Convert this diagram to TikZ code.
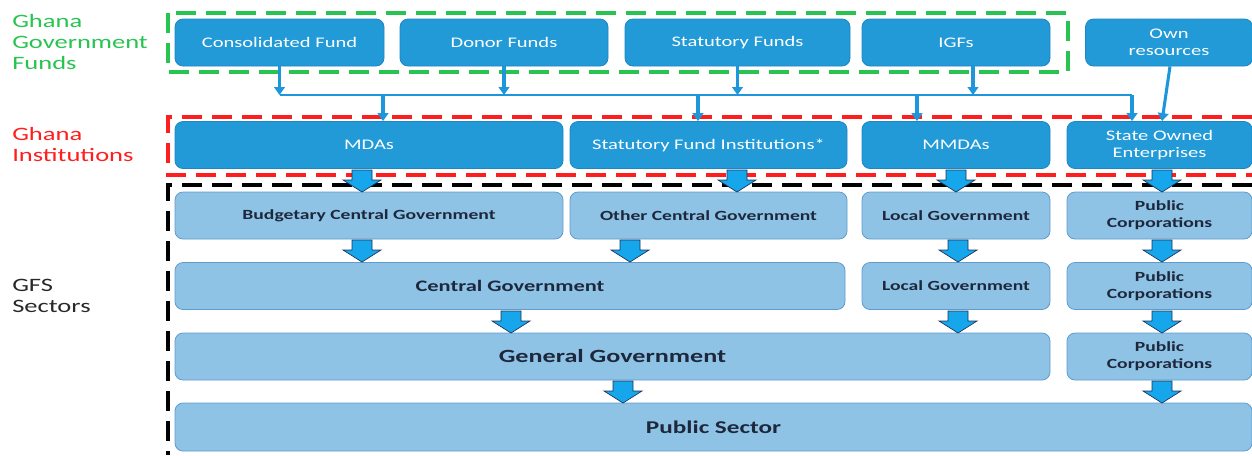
\documentclass[tikz,border=0pt]{standalone}
\usepackage{fontspec}
\setmainfont{Carlito}[FakeStretch=1.4]
\usetikzlibrary{arrows.meta,calc}
\definecolor{darkbox}{RGB}{33,154,215}
\definecolor{darkedge}{RGB}{30,135,195}
\definecolor{lightbox}{RGB}{142,195,230}
\definecolor{lightedge}{RGB}{95,155,205}
\definecolor{arrowblue}{RGB}{22,166,235}
\definecolor{arrowedge}{RGB}{30,50,90}
\definecolor{lineblue}{RGB}{30,150,220}
\definecolor{ggreen}{RGB}{40,195,80}
\definecolor{gred}{RGB}{255,30,30}
\definecolor{navytext}{RGB}{30,40,60}
\definecolor{labelgray}{RGB}{40,40,40}
\begin{document}
\begin{tikzpicture}[x=0.75pt,y=-0.75pt,
  bw/.style={minimum width=#1*0.75pt},
  bh/.style={minimum height=#1*0.75pt},
  dbox/.style={rounded corners=6pt, fill=darkbox, draw=darkedge, line width=0.6pt,
    text=white, font=\fontsize{11}{12.5}\selectfont, align=center, inner sep=0pt, bh=47},
  lbox/.style={rounded corners=6pt, fill=lightbox, draw=lightedge, line width=0.6pt,
    text=navytext, font=\bfseries\fontsize{10.5}{12.5}\selectfont, align=center, inner sep=0pt, bh=47},
  sidelabel/.style={anchor=west, align=left, inner sep=0pt, font=\fontsize{14.2}{15.75}\selectfont},
  framedash/.style={line width=2.4pt, dash pattern=on 15pt off 7.5pt},
  thinarrow/.style={draw=lineblue, line width=2.3pt, -{Triangle[width=8pt,length=6pt]}},
  busline/.style={draw=lineblue, line width=1.8pt},
  blockarrow/.pic={\path[fill=arrowblue, draw=arrowedge, line width=0.5pt]
    (-10,0) -- (10,0) -- (10,10) -- (19,10) -- (0,22) -- (-19,10) -- (-10,10) -- cycle;}
]
\useasboundingbox (0,0) rectangle (1252,455);

% side labels
\node[sidelabel, text=ggreen] (lfunds) at (12,42) {Ghana\\Government\\Funds};
\node[sidelabel, text=gred] (linst) at (12,144) {Ghana\\Institutions};
\node[sidelabel, text=labelgray] (lgfs) at (12,296) {GFS\\Sectors};

% dashed frames
\draw[framedash, draw=ggreen] (168,13) rectangle (1068,72);
\draw[framedash, draw=gred] (1252,117) -- (168,117) -- (168,175) -- (1252,175);
\draw[framedash, draw=black] (1252,185) -- (168,185) -- (168,455);

% funds
\node[dbox, bw=209] (cf)  at (279.5,42.5) {Consolidated Fund};
\node[dbox, bw=208] (df)  at (504,42.5)   {Donor Funds};
\node[dbox, bw=225] (sf)  at (737.5,42.5) {Statutory Funds};
\node[dbox, bw=188] (igf) at (956,42.5)   {IGFs};
\node[dbox, bw=167] (own) at (1169,42.5)  {Own\\resources};

% institutions
\node[dbox, bw=388] (mdas)  at (369,145)    {MDAs};
\node[dbox, bw=277] (sfi)   at (708.5,145)  {Statutory Fund Institutions*};
\node[dbox, bw=188] (mmdas) at (956,145)    {MMDAs};
\node[dbox, bw=185] (soe)   at (1159.5,145) {State Owned\\Enterprises};

% GFS row 1
\node[lbox, bw=388] (bcg) at (369,215.5)    {Budgetary Central Government};
\node[lbox, bw=277] (ocg) at (708.5,215.5)  {Other Central Government};
\node[lbox, bw=188] (lg1) at (956,215.5)    {Local Government};
\node[lbox, bw=185] (pc1) at (1159.5,215.5) {Public\\Corporations};
% row 2
\node[lbox, bw=670, font=\bfseries\fontsize{12}{14}\selectfont] (cg) at (510,286) {Central Government};
\node[lbox, bw=188] (lg2) at (956,286)    {Local Government};
\node[lbox, bw=185] (pc2) at (1159.5,286) {Public\\Corporations};
% row 3
\node[lbox, bw=875, font=\bfseries\fontsize{14}{16}\selectfont] (gg) at (612.5,356.5) {General Government};
\node[lbox, bw=185] (pc3) at (1159.5,356.5) {Public\\Corporations};
% row 4
\node[lbox, bw=1077, bh=48, font=\bfseries\fontsize{13.5}{16}\selectfont] (ps) at (713.5,427) {Public Sector};

% funding connectors
\coordinate (bus) at (0,95);
\coordinate (busL) at (279.5,95);
\coordinate (busR) at (1132,95);
\draw[thinarrow] (cf.south) -- (cf.south |- bus);
\draw[thinarrow] (df.south) -- (df.south |- bus);
\draw[thinarrow] (sf.south) -- (sf.south |- bus);
\draw[thinarrow] ($(igf.south)+(17,0)$) -- ($(igf.south |- bus)+(17,0)$);
\draw[busline] (busL) -- (busR);
\coordinate (d1) at (383,95);
\coordinate (d2) at (698,95);
\coordinate (d3) at (917,95);
\draw[thinarrow] (d1) -- (d1 |- mdas.north);
\draw[thinarrow] (d2) -- (d2 |- sfi.north);
\draw[thinarrow] (d3) -- (d3 |- mmdas.north);
\draw[thinarrow] (busR) -- (busR |- soe.north);
\draw[thinarrow] ($(own.south)+(1,0)$) -- ($(soe.north)+(2.5,0)$);

% block arrows
\pic at (362,170) {blockarrow};
\pic at (737,170) {blockarrow};
\pic at (956,170) {blockarrow};
\pic at (1162,170) {blockarrow};
\pic at (362,240) {blockarrow};
\pic at (630,240) {blockarrow};
\pic at (958,240) {blockarrow};
\pic at (1162,240) {blockarrow};
\pic at (511,311) {blockarrow};
\pic at (958,311) {blockarrow};
\pic at (1162,311) {blockarrow};
\pic at (623,381) {blockarrow};
\pic at (1162,381) {blockarrow};
\end{tikzpicture}
\end{document}
